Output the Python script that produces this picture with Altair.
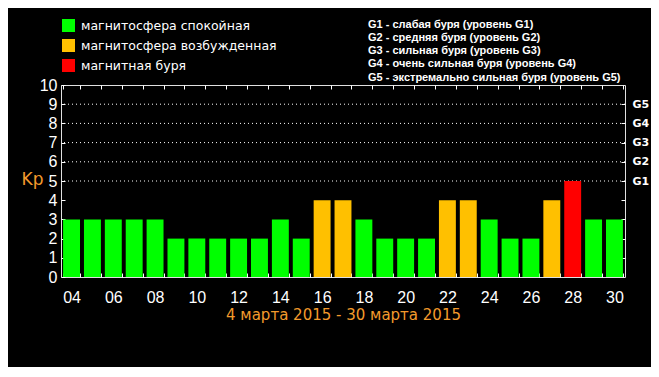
import altair as alt
import pandas as pd

days = ["04", "05", "06", "07", "08", "09", "10", "11", "12", "13", "14", "15", "16", "17",
        "18", "19", "20", "21", "22", "23", "24", "25", "26", "27", "28", "29", "30"]
kp = [3, 3, 3, 3, 3, 2, 2, 2, 2, 2, 3, 2, 4, 4, 3, 2, 2, 2, 4, 4, 3, 2, 2, 4, 5, 3, 3]
state_names = ["магнитосфера спокойная", "магнитосфера возбужденная", "магнитная буря"]
state_colors = ["#00FF00", "#FFC000", "#FF0000"]
state_idx = [0, 0, 0, 0, 0, 0, 0, 0, 0, 0, 0, 0, 1, 1, 0, 0, 0, 0, 1, 1, 0, 0, 0, 1, 2, 0, 0]
grid_levels = [5, 6, 7, 8, 9]
g_levels = [5, 6, 7, 8, 9]
g_labels = ["G1", "G2", "G3", "G4", "G5"]
g_legend = [
    "G1 - слабая буря (уровень G1)",
    "G2 - средняя буря (уровень G2)",
    "G3 - сильная буря (уровень G3)",
    "G4 - очень сильная буря (уровень G4)",
    "G5 - экстремально сильная буря (уровень G5)",
]
x_title = "4 марта 2015 - 30 марта 2015"
y_title = "Kp"

df = pd.DataFrame({"day": days, "kp": kp, "state": [state_names[i] for i in state_idx]})
grid_df = pd.DataFrame({"level": grid_levels})
g_df = pd.DataFrame({"txt": g_legend})

ORANGE = "#F39A2C"
NUMFONT = "Liberation Sans"

yscale = alt.Scale(domain=[0, 10], nice=False)
xscale = alt.Scale(paddingInner=0.19, paddingOuter=0.1)

grid = alt.Chart(grid_df).mark_rule(color="white", strokeDash=[1, 3], strokeWidth=1).encode(
    y=alt.Y("level:Q", scale=yscale, axis=None)
)

bars = alt.Chart(df).mark_bar().encode(
    x=alt.X("day:O", scale=xscale, sort=days,
            axis=alt.Axis(orient="bottom", title=x_title, titleColor=ORANGE, titleFont="DejaVu Sans",
                          titleFontSize=15, titleFontWeight="normal", titlePadding=2,
                          labelAngle=0, labelColor="white", labelFont=NUMFONT, labelFontSize=16,
                          labelExpr="parseInt(datum.value, 10) % 2 == 0 ? datum.label : ''",
                          tickBand="extent", tickSize=4, tickColor="white", offset=-4,
                          domain=False, labelPadding=12)),
    y=alt.Y("kp:Q", scale=yscale,
            axis=alt.Axis(orient="left", values=list(range(0, 11)), title=y_title, titleAngle=0,
                          titleColor=ORANGE, titleFont="DejaVu Sans", titleFontSize=17,
                          titleFontWeight="normal", titleX=-33, titleY=103,
                          labelColor="white", labelFont=NUMFONT, labelFontSize=16,
                          tickSize=4, tickColor="white", offset=-4, domain=False,
                          labelPadding=4, grid=False)),
    color=alt.Color("state:N", scale=alt.Scale(domain=state_names, range=state_colors),
                    legend=alt.Legend(orient="none", legendX=1, legendY=-66, title=None,
                                      symbolType="square", symbolSize=169, symbolStrokeWidth=0,
                                      labelColor="white", labelFont="DejaVu Sans", labelFontSize=12.5,
                                      labelLimit=400, rowPadding=7, labelOffset=6)),
)

frame = alt.Chart(df).mark_bar(opacity=0).encode(
    x=alt.X("day:O", scale=xscale, sort=days,
            axis=alt.Axis(orient="top", title=None, labels=False, tickBand="extent", tickSize=4,
                          tickColor="white", offset=-4, domain=False)),
    y=alt.Y("kp:Q", scale=yscale,
            axis=alt.Axis(orient="right", values=list(range(1, 10)), title=None,
                          labelExpr="indexof(" + str(g_levels) + ", datum.value) >= 0 ? "
                                    + str(g_labels) + "[indexof(" + str(g_levels) + ", datum.value)] : ''",
                          labelColor="white", labelFont="DejaVu Sans", labelFontSize=11,
                          labelFontWeight="bold", tickSize=4, tickColor="white", offset=-4,
                          domain=False, labelPadding=7, grid=False)),
)

g_layer = alt.Chart(g_df).mark_point(opacity=0).encode(
    shape=alt.Shape("txt:N", sort=g_legend,
                    legend=alt.Legend(orient="none", legendX=296, legendY=-66, title=None,
                                      symbolSize=0, symbolOpacity=0, symbolStrokeWidth=0,
                                      labelColor="white", labelFont="Liberation Sans",
                                      labelFontSize=11, labelFontWeight="bold", labelLimit=400,
                                      labelOffset=0, rowPadding=1.25, symbolType="square"))
)

chart = alt.layer(grid, bars, frame, g_layer).resolve_axis(
    x="independent", y="independent"
).resolve_legend(color="independent", shape="independent").properties(
    width=564, height=192, background="black",
    autosize=alt.AutoSizeParams(type="none"),
    padding={"left": 53, "top": 77, "right": 26, "bottom": 90},
).configure_view(stroke="#e0e0e0", strokeWidth=1)

chart.save("out.html", embed_options={"renderer": "svg", "actions": False})
